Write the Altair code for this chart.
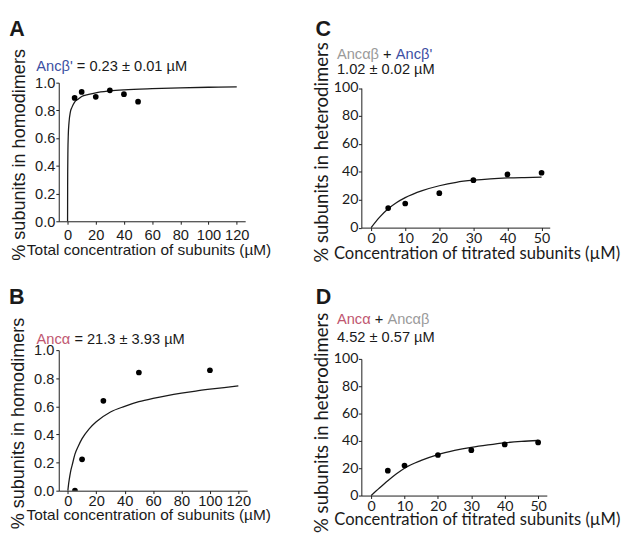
import altair as alt
import pandas as pd

# ---------------- data ----------------
A_x = [5, 10, 20, 30, 40, 50]
A_y = [0.890, 0.933, 0.898, 0.945, 0.917, 0.863]
A_fit_x = [0, 0.05, 0.1, 0.25, 0.5, 1, 2, 3, 5, 7.5, 10, 15, 20, 30, 40, 60, 80, 100, 120]
A_fit_y = [0, 0.25, 0.36, 0.51, 0.62, 0.71, 0.79, 0.82, 0.86, 0.88, 0.90, 0.915, 0.927, 0.94, 0.948, 0.957, 0.963, 0.967, 0.970]

B_x = [5, 10, 25, 50, 100]
B_y = [0.0, 0.223, 0.639, 0.841, 0.857]
B_fit_x = [0, 0.5, 1, 2, 3, 5, 7.5, 10, 15, 20, 30, 40, 50, 60, 70, 80, 90, 100, 110, 120]
B_fit_y = [0, 0.045, 0.08, 0.14, 0.18, 0.26, 0.32, 0.37, 0.44, 0.49, 0.56, 0.60, 0.633, 0.657, 0.677, 0.694, 0.709, 0.722, 0.734, 0.745]

C_x = [5, 10, 20, 30, 40, 50]
C_y = [14.0, 17.3, 24.7, 34.0, 38.1, 39.3]
C_fit_x = [0, 2.5, 5, 7.5, 10, 15, 20, 25, 30, 35, 40, 45, 50]
C_fit_y = [0, 7.5, 13.5, 18.0, 21.5, 26.5, 30.0, 32.5, 34.0, 35.0, 35.6, 35.9, 36.1]

D_x = [5, 10, 20, 30, 40, 50]
D_y = [18.2, 22.0, 29.7, 33.2, 37.4, 38.9]
D_fit_x = [0, 2.5, 5, 7.5, 10, 15, 20, 25, 30, 35, 40, 45, 50]
D_fit_y = [0, 5.5, 10.8, 15.7, 20.0, 25.7, 30.0, 33.0, 35.3, 37.1, 38.6, 39.6, 40.3]

X_TICKS_AB = [0, 20, 40, 60, 80, 100, 120]
Y_TICKS_AB = [0, 0.2, 0.4, 0.6, 0.8, 1.0]
X_TICKS_CD = [0, 10, 20, 30, 40, 50]
Y_TICKS_CD = [0, 20, 40, 60, 80, 100]

BLUE = "#3b4fa3"
ROSE = "#c0566f"
GRAY = "#9a9a9a"
INK = "#1a1a1a"
ARIAL = "Liberation Sans"
MYRIAD = "Lato"


def text_layer(txt, x, y, color=INK, size=15, font=ARIAL, weight="normal",
               align="left", baseline="alphabetic", opacity=1):
    return alt.Chart(alt.Data(values=[{}])).mark_text(
        text=txt, align=align, baseline=baseline, font=font,
        fontSize=size, color=color, fontWeight=weight, opacity=opacity
    ).encode(x=alt.value(x), y=alt.value(y))


def panel(px, py, fx, fy, xdom, ydom, xticks, yticks, yfmt, w, h, top_off,
          xtitle, ytitle, font, lsize, xts, yts, xt_pos, yt_pos,
          lpad_x, lpad_y, texts):
    xaxis = alt.Axis(values=xticks, title=xtitle, grid=False, labelFont=font,
                     titleFont=font, labelFontSize=lsize, titleFontSize=xts,
                     titleFontWeight="normal", labelColor=INK, titleColor=INK,
                     domainColor=INK, tickColor=INK, tickSize=3,
                     labelPadding=lpad_x, titleX=xt_pos[0], titleY=xt_pos[1],
                     titleAlign="center", titleBaseline="middle", labelFlush=False)
    yaxis = alt.Axis(values=yticks, format=yfmt, title=ytitle, grid=False,
                     labelFont=font, titleFont=font, labelFontSize=lsize,
                     titleFontSize=yts, titleFontWeight="normal", labelColor=INK,
                     titleColor=INK, domainColor=INK, tickColor=INK, tickSize=3,
                     labelPadding=lpad_y, titleX=yt_pos[0], titleY=yt_pos[1] + top_off,
                     titleAlign="center", titleBaseline="middle", titleAngle=270,
                     labelFlush=False)
    full_h = h + top_off
    xenc = alt.X("x:Q", scale=alt.Scale(domain=xdom, nice=False, zero=False), axis=xaxis)
    yenc = alt.Y("y:Q", scale=alt.Scale(domain=ydom, nice=False, zero=False,
                                        range=[full_h, top_off]), axis=yaxis)
    fit = alt.Chart(pd.DataFrame({"x": fx, "y": fy})).mark_line(
        color=INK, strokeWidth=1.3, interpolate="monotone").encode(xenc, yenc)
    dots = alt.Chart(pd.DataFrame({"x": px, "y": py})).mark_circle(
        size=34, color="#000", opacity=1, clip=True).encode(xenc, yenc)
    tl = []
    for t in texts:
        t = dict(t)
        t["y"] = t["y"] + top_off
        tl.append(text_layer(**t))
    return alt.layer(fit, dots, *tl).properties(width=w, height=full_h)


# invisible layout anchors (fix the bounding box of each column)
A_anchor = [dict(txt=".", x=-52, y=-69.5, baseline="top", opacity=0),
            dict(txt=".", x=222, y=60, align="right", opacity=0)]
C_anchor = [dict(txt=".", x=-51, y=60, opacity=0)]

A = panel(A_x, A_y, A_fit_x, A_fit_y, [-6.25, 126], [0, 1], X_TICKS_AB, Y_TICKS_AB, ".1f",
          191, 142, 0, "Total concentration of subunits (µM)", "% subunits in homodimers",
          ARIAL, 15, 15.8, 18.5, (92, 29.5), (-41, 73.5), 3.5, 1,
          A_anchor +
          [dict(txt="A", x=-50.7, y=-48.2, size=22, weight="bold"),
           dict(txt="Ancβ'", x=-23, y=-11.5, color=BLUE),
           dict(txt="= 0.23 ± 0.01 µM", x=-23 + 41.5, y=-11.5)])

B = panel(B_x, B_y, B_fit_x, B_fit_y, [-6.4, 126.2], [0, 1], X_TICKS_AB, Y_TICKS_AB, ".1f",
          193, 144, 0, "Total concentration of subunits (µM)", "% subunits in homodimers",
          ARIAL, 15, 15.8, 18.5, (91.7, 25), (-42.5, 74.7), 0.5, 2,
          [dict(txt="B", x=-51, y=-47.7, size=22, weight="bold"),
           dict(txt="Ancα", x=-22.7, y=-6, color=ROSE),
           dict(txt="= 21.3 ± 3.93 µM", x=-22.7 + 38.7, y=-6)])

C = panel(C_x, C_y, C_fit_x, C_fit_y, [-2.87, 52.4], [0, 100], X_TICKS_CD, Y_TICKS_CD, "d",
          193, 143, 5.5, "Concentration of titrated subunits (µM)", "% subunits in heterodimers",
          MYRIAD, 14.5, 17, 19, (118, 27), (-41, 65.5), 1, 0.5,
          C_anchor +
          [dict(txt="C", x=-47, y=-53.7, size=22, weight="bold"),
           dict(txt="Ancαβ", x=-25, y=-30, color=GRAY),
           dict(txt="+", x=-25 + 47.3, y=-30),
           dict(txt="Ancβ'", x=-25 + 60.3, y=-30, color=BLUE),
           dict(txt="1.02 ± 0.02 µM", x=-25, y=-14)])

D = panel(D_x, D_y, D_fit_x, D_fit_y, [-2.92, 52.6], [0, 100], X_TICKS_CD, Y_TICKS_CD, "d",
          190, 140, 0, "Concentration of titrated subunits (µM)", "% subunits in heterodimers",
          MYRIAD, 14.5, 17, 19, (118.3, 25), (-41, 65), 1, 0.5,
          [dict(txt="D", x=-46.7, y=-56.7, size=22, weight="bold"),
           dict(txt="Ancα", x=-25, y=-35.7, color=ROSE),
           dict(txt="+", x=-25 + 38.7, y=-35.7),
           dict(txt="Ancαβ", x=-25 + 51.7, y=-35.7, color=GRAY),
           dict(txt="4.52 ± 0.57 µM", x=-25, y=-17.3)])

left = alt.vconcat(A, B, spacing=132, bounds="flush")
right = alt.vconcat(C, D, spacing=134, bounds="flush")

chart = alt.hconcat(left, right, spacing=37).properties(
    padding={"left": 0, "top": 0, "right": 0, "bottom": 0},
    background="white",
).configure_view(stroke=None)

chart.save("out.html", embed_options={"renderer": "svg", "actions": False})
